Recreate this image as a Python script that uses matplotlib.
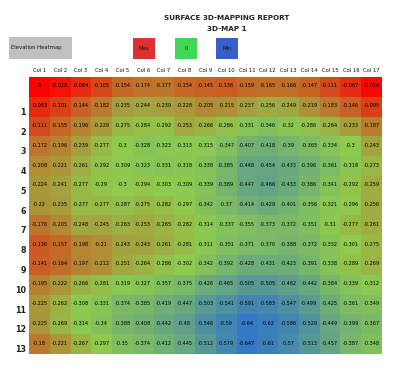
import numpy as np
import matplotlib
matplotlib.use("Agg")
import matplotlib.pyplot as plt
from matplotlib.colors import LinearSegmentedColormap, TwoSlopeNorm

# Column / row labels
colLabels = ["Col %d" % i for i in range(1, 18)]
rowLabels = [""] + [str(i) for i in range(1, 14)]

# Elevation values (row 0 is the unlabeled top row)
row0 = [0, -0.028, -0.064, -0.105, -0.154, -0.174, -0.177, -0.154, -0.145, -0.138, -0.159, -0.165, -0.166, -0.147, -0.111, -0.067, -0.014]
row1 = [-0.063, -0.101, -0.144, -0.182, -0.235, -0.244, -0.239, -0.228, -0.205, -0.215, -0.237, -0.256, -0.249, -0.219, -0.183, -0.146, -0.095]
row2 = [-0.111, -0.155, -0.196, -0.229, -0.275, -0.284, -0.292, -0.253, -0.266, -0.286, -0.331, -0.346, -0.32, -0.286, -0.264, -0.233, -0.187]
row3 = [-0.172, -0.196, -0.239, -0.277, -0.3, -0.328, -0.323, -0.313, -0.315, -0.347, -0.407, -0.418, -0.39, -0.365, -0.334, -0.3, -0.243]
row4 = [-0.208, -0.221, -0.261, -0.292, -0.309, -0.323, -0.331, -0.318, -0.338, -0.385, -0.448, -0.454, -0.433, -0.396, -0.361, -0.318, -0.273]
row5 = [-0.224, -0.241, -0.277, -0.29, -0.3, -0.294, -0.303, -0.309, -0.339, -0.389, -0.447, -0.466, -0.433, -0.386, -0.341, -0.292, -0.259]
row6 = [-0.22, -0.235, -0.277, -0.277, -0.287, -0.275, -0.282, -0.297, -0.342, -0.37, -0.414, -0.429, -0.401, -0.356, -0.321, -0.296, -0.256]
row7 = [-0.176, -0.205, -0.248, -0.245, -0.263, -0.253, -0.265, -0.282, -0.314, -0.337, -0.355, -0.373, -0.372, -0.351, -0.31, -0.277, -0.261]
row8 = [-0.136, -0.157, -0.198, -0.21, -0.243, -0.243, -0.261, -0.281, -0.311, -0.351, -0.371, -0.376, -0.388, -0.372, -0.332, -0.301, -0.275]
row9 = [-0.141, -0.164, -0.197, -0.212, -0.251, -0.264, -0.286, -0.302, -0.342, -0.392, -0.428, -0.431, -0.423, -0.391, -0.338, -0.289, -0.269]
row10 = [-0.195, -0.222, -0.266, -0.281, -0.319, -0.327, -0.357, -0.375, -0.426, -0.465, -0.505, -0.505, -0.482, -0.442, -0.384, -0.339, -0.312]
row11 = [-0.225, -0.262, -0.308, -0.331, -0.374, -0.385, -0.419, -0.447, -0.503, -0.541, -0.591, -0.583, -0.547, -0.499, -0.425, -0.361, -0.349]
row12 = [-0.225, -0.269, -0.314, -0.34, -0.388, -0.408, -0.442, -0.48, -0.546, -0.59, -0.64, -0.62, -0.586, -0.529, -0.449, -0.399, -0.367]
row13 = [-0.18, -0.221, -0.267, -0.297, -0.35, -0.374, -0.412, -0.445, -0.512, -0.579, -0.647, -0.61, -0.57, -0.513, -0.457, -0.387, -0.348]

data = np.array([row0, row1, row2, row3, row4, row5, row6, row7,
                 row8, row9, row10, row11, row12, row13])
nRows, nCols = data.shape

# 3-color scale like the spreadsheet: min blue, median green, max red
cmap = LinearSegmentedColormap.from_list("elev", ["#3478C6", "#8ECB4E", "#FF0000"])
norm = TwoSlopeNorm(vmin=data.min(), vcenter=np.median(data), vmax=data.max())

W, H = 403, 376
fig = plt.figure(figsize=(W / 100, H / 100), dpi=100)
fig.patch.set_facecolor("white")

# pixel -> figure fraction helpers
def fx(px):
    return px / W

def fy(py):
    return 1 - py / H

# heatmap axes
left, right, top, bottom = 29, 382, 77, 354
ax = fig.add_axes([fx(left), fy(bottom), fx(right - left), (bottom - top) / H])
ax.imshow(data, cmap=cmap, norm=norm, aspect="auto", interpolation="nearest",
          extent=(-0.5, nCols - 0.5, nRows - 0.5, -0.5))
ax.set_xlim(-0.5, nCols - 0.5)
ax.set_ylim(nRows - 0.5, -0.5)
ax.axis("off")

for r in range(nRows):
    for c in range(nCols):
        v = data[r, c]
        txt = "0" if v == 0 else ("%g" % v)
        ax.text(c, r - 0.05, txt, ha="center", va="center", fontsize=3.6, color="#000000")

# column headers
for c, lab in enumerate(colLabels):
    ax.text(c, -0.72, lab, ha="center", va="bottom", fontsize=3.8, color="#111111")

# row labels (sit near bottom of each row)
for r, lab in enumerate(rowLabels):
    if lab:
        ax.text(-0.65, r + 0.28, lab, ha="right", va="center", fontsize=5.8,
                fontweight="bold", color="#222222")

# titles
fig.text(fx(227), fy(18), "SURFACE 3D-MAPPING REPORT", ha="center", va="center",
         fontsize=5.2, fontweight="bold", color="#222222")
fig.text(fx(227), fy(29), "3D-MAP 1", ha="center", va="center",
         fontsize=5.2, fontweight="bold", color="#222222")

# legend boxes
def box(x0, y0, x1, y1, color, label, ha="center"):
    fig.patches.append(plt.Rectangle((fx(x0), fy(y1)), fx(x1 - x0), (y1 - y0) / H,
                                     transform=fig.transFigure, facecolor=color,
                                     edgecolor="none"))
    tx = fx(x0 + 2) if ha == "left" else fx((x0 + x1) / 2)
    fig.text(tx, fy((y0 + y1) / 2), label, ha=ha, va="center", fontsize=3.8, color="#111111")

box(9, 37, 72, 59, "#C0C0C0", "Elevation Heatmap", ha="left")
box(133, 38, 155, 59, "#DF3131", "Max")
box(175, 38, 197, 59, "#43D655", "0")
box(216, 38, 238, 59, "#3A5DCD", "Min")

fig.savefig("out.png", dpi=100)
